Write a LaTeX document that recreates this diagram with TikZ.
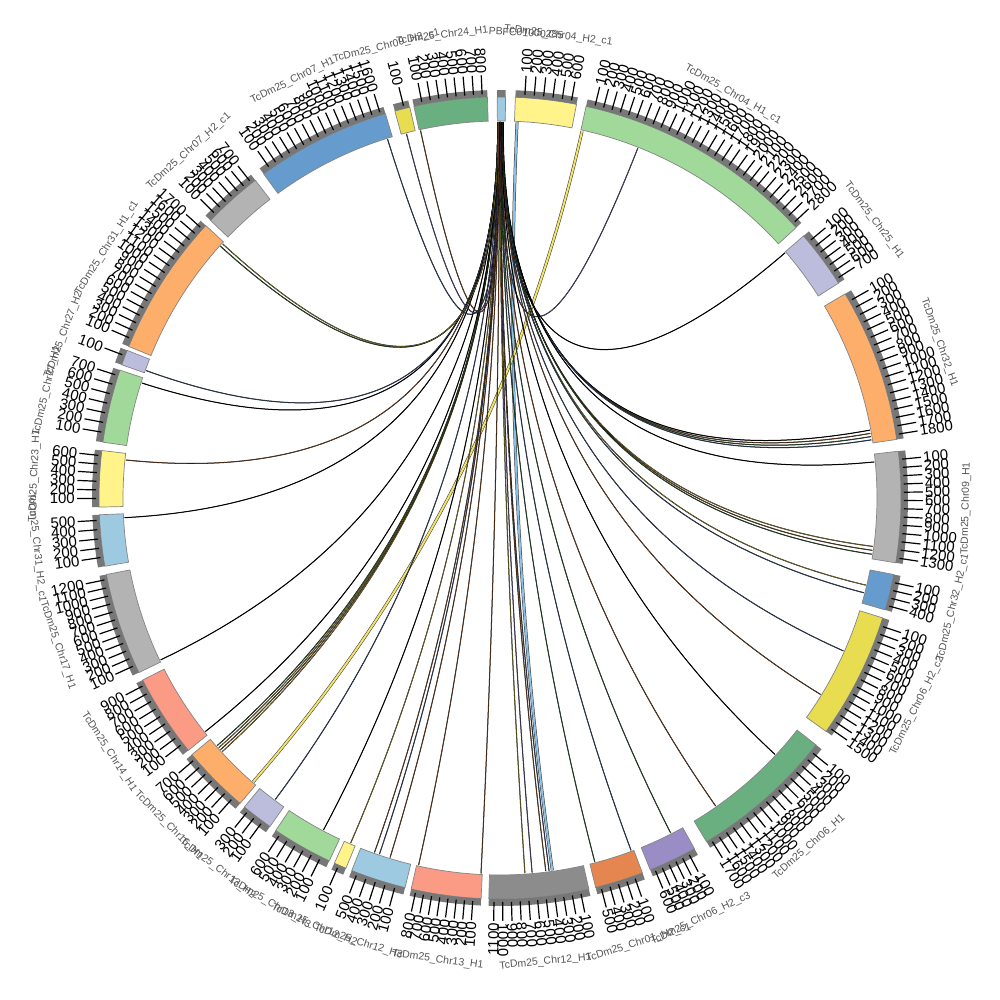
\documentclass[tikz,border=0pt]{standalone}
\usepackage{fontspec}
\setmainfont{Liberation Sans}
\usetikzlibrary{calc}
\definecolor{cLB}{HTML}{9ECAE1}
\definecolor{cLY}{HTML}{FFF38A}
\definecolor{cLG}{HTML}{A1D99B}
\definecolor{cLV}{HTML}{BCBDDC}
\definecolor{cOR}{HTML}{FDAE6B}
\definecolor{cGR}{HTML}{B3B3B3}
\definecolor{cBL}{HTML}{669BCD}
\definecolor{cYD}{HTML}{E8DC50}
\definecolor{cGD}{HTML}{6AAF80}
\definecolor{cPU}{HTML}{9A8CC4}
\definecolor{cOD}{HTML}{E5854F}
\definecolor{cGM}{HTML}{8C8C8C}
\definecolor{cSA}{HTML}{FB9A85}
\definecolor{bandc}{HTML}{777777}
\definecolor{edgec}{HTML}{858585}
\definecolor{labc}{HTML}{555555}
\definecolor{lk1}{HTML}{000000}
\definecolor{lk2}{HTML}{7A4A28}
\definecolor{lk3}{HTML}{8A8030}
\definecolor{lk4}{HTML}{3D4F73}
\definecolor{lk5}{HTML}{2F5A35}
\definecolor{lk6}{HTML}{5C5488}
\definecolor{lk7}{HTML}{F2E26A}
\definecolor{lk8}{HTML}{8FBFE0}
\tikzset{
  segfill/.style={draw=edgec, line width=0.7pt},
  tickband/.style={fill=bandc},
  tickline/.style={draw=black, line width=1.2pt},
  ticklab/.style={inner sep=0pt, font=\fontsize{15}{15}\selectfont, text=black},
  chrlab/.style={inner sep=0pt, font=\fontsize{10.5}{11}\selectfont, text=labc},
  linkout/.style={draw=black, line width=1.0pt},
  linkin/.style={line width=0.45pt},
  ribout/.style={draw=black!80, line width=3.0pt},
  ribin/.style={line width=2.0pt},
}
% #1 id, #2 theta start, #3 theta end, #4 ticks, #5 colour, #6 label, #7 label angle
\newcommand\chrseg[7]{%
  \pgfmathsetmacro\segpA{90-(#2)}%
  \pgfmathsetmacro\segpB{90-(#3)}%
  \fill[#5, segfill] (\segpA:377) arc[start angle=\segpA, end angle=\segpB, radius=377]
     -- (\segpB:401) arc[start angle=\segpB, end angle=\segpA, radius=401] -- cycle;
  \fill[tickband] (\segpA:401) arc[start angle=\segpA, end angle=\segpB, radius=401]
     -- (\segpB:408) arc[start angle=\segpB, end angle=\segpA, radius=408] -- cycle;
  \ifnum#4>0
    \pgfmathsetmacro\tkstep{((#3)-(#2))/(#4+0.6)}%
    \foreach \k in {1,...,#4}{%
      \pgfmathsetmacro\tkth{(#2)+\k*\tkstep}%
      \pgfmathsetmacro\tkph{90-\tkth}%
      \pgfmathtruncatemacro\tkval{100*\k}%
      \draw[tickline] (\tkph:404) -- (\tkph:423);
      \pgfmathtruncatemacro\tkrgt{mod(\tkth+720,360)<180 ? 1 : 0}%
      \ifnum\tkrgt=1
        \node[ticklab, anchor=west, rotate=\tkph] (tl#1x\k) at (\tkph:425) {\tkval};
      \else
        \pgfmathsetmacro\tkrr{\tkph+180}%
        \node[ticklab, anchor=east, rotate=\tkrr] (tl#1x\k) at (\tkph:425) {\tkval};
      \fi
    }
  \fi
  \pgfmathsetmacro\lbph{90-(#7)}%
  \pgfmathtruncatemacro\lbbot{and(mod(#7+720,360)>=90, mod(#7+720,360)<270)}%
  \ifnum\lbbot=1
    \pgfmathsetmacro\lbrot{\lbph+90}%
  \else
    \pgfmathsetmacro\lbrot{\lbph-90}%
  \fi
  \node[chrlab, rotate=\lbrot] (lab#1) at (\lbph:466) {#6};
}
\newcommand\lnk[4]{%
  \coordinate (ls#1) at ({90-(#2)}:376);
  \coordinate (lt#1) at ({90-(#3)}:376);
  \draw[linkout] (ls#1) .. controls ($(ls#1)!0.6667!(O)$) and ($(lt#1)!0.6667!(O)$) .. (lt#1);
  \draw[linkin, draw=#4] (ls#1) .. controls ($(ls#1)!0.6667!(O)$) and ($(lt#1)!0.6667!(O)$) .. (lt#1);
}
\newcommand\rib[4]{%
  \coordinate (ls#1) at ({90-(#2)}:376);
  \coordinate (lt#1) at ({90-(#3)}:376);
  \draw[ribout] (ls#1) .. controls ($(ls#1)!0.6667!(O)$) and ($(lt#1)!0.6667!(O)$) .. (lt#1);
  \draw[ribin, draw=#4] (ls#1) .. controls ($(ls#1)!0.6667!(O)$) and ($(lt#1)!0.6667!(O)$) .. (lt#1);
}
\begin{document}
\begin{tikzpicture}[x=1pt, y=1pt]
\useasboundingbox (-500,-502) rectangle (500,498);
\fill[white] (-500,-502) rectangle (500,498);
\coordinate (O) at (0,0);
% ---------- links ----------
\rib{47}{2.6}{172}{lk8}
\rib{48}{12.6}{221}{lk7}
\lnk{1}{0.1}{21.5}{lk6}
\lnk{2}{0.2}{49.3}{lk1}
\lnk{3}{0.3}{79.6}{lk1}
\lnk{4}{0.35}{80.1}{lk2}
\lnk{5}{0.4}{80.6}{lk5}
\lnk{6}{0.45}{81.1}{lk4}
\lnk{7}{0.5}{84.5}{lk1}
\lnk{8}{0.3}{97.4}{lk3}
\lnk{9}{0.35}{98.0}{lk2}
\lnk{10}{0.4}{98.6}{lk5}
\lnk{11}{0.25}{103.4}{lk3}
\lnk{12}{0.3}{104.6}{lk4}
\lnk{13}{0.2}{114}{lk4}
\lnk{14}{0.25}{121.5}{lk2}
\lnk{15}{0.2}{133}{lk1}
\lnk{16}{0.15}{145}{lk2}
\lnk{17}{0.1}{153}{lk5}
\lnk{18}{0.05}{159.6}{lk4}
\lnk{19}{0.1}{165.4}{lk5}
\lnk{20}{0.0}{172.5}{lk4}
\lnk{21}{0.05}{173.0}{lk2}
\lnk{22}{0.0}{175.1}{lk6}
\lnk{23}{-0.05}{176.2}{lk3}
\lnk{24}{-0.1}{182.9}{lk2}
\lnk{25}{-0.1}{192.5}{lk2}
\lnk{26}{-0.15}{197}{lk2}
\lnk{27}{-0.15}{198.7}{lk4}
\lnk{28}{-0.2}{199.5}{lk2}
\lnk{29}{-0.2}{203.4}{lk3}
\lnk{30}{-0.2}{208}{lk1}
\lnk{31}{-0.25}{216.7}{lk4}
\lnk{32}{-0.25}{227.6}{lk3}
\lnk{33}{-0.25}{228.0}{lk2}
\lnk{34}{-0.3}{228.4}{lk3}
\lnk{35}{-0.3}{228.8}{lk5}
\lnk{36}{-0.3}{231.6}{lk1}
\lnk{37}{-0.3}{244.5}{lk1}
\lnk{38}{-0.35}{267}{lk1}
\lnk{39}{-0.35}{275.8}{lk2}
\lnk{40}{-0.35}{287.8}{lk1}
\lnk{41}{-0.35}{289.8}{lk4}
\lnk{42}{-0.3}{312}{lk5}
\lnk{43}{-0.3}{312.5}{lk3}
\lnk{44}{-0.25}{342.6}{lk4}
\lnk{45}{-0.2}{345.6}{lk6}
\lnk{46}{-0.2}{347.8}{lk2}
% ---------- segments ----------
\chrseg{a}{-0.4}{0.8}{0}{cLB}{PBFC01000285}{3.2}
\chrseg{b}{2.2}{11}{6}{cLY}{TcDm25\_Chr04\_H2\_c1}{7.2}
\chrseg{c}{12.4}{47.6}{28}{cLG}{TcDm25\_Chr04\_H1\_c1}{30}
\chrseg{d}{49.2}{57.6}{7}{cLV}{TcDm25\_Chr25\_H1}{53.4}
\chrseg{e}{59.4}{81.6}{18}{cOR}{TcDm25\_Chr32\_H1}{70.5}
\chrseg{f}{83.3}{99.3}{13}{cGR}{TcDm25\_Chr09\_H1}{91.3}
\chrseg{g}{101}{106.2}{4}{cBL}{TcDm25\_Chr32\_H2\_c1}{103.6}
\chrseg{h}{107.4}{125.6}{15}{cYD}{TcDm25\_Chr06\_H2\_c2}{116.5}
\chrseg{i}{128}{149}{17}{cGD}{TcDm25\_Chr06\_H1}{138.5}
\chrseg{j}{151}{158}{6}{cPU}{TcDm25\_Chr06\_H2\_c3}{154.5}
\chrseg{k}{159.2}{166.2}{5}{cOD}{TcDm25\_Chr01\_H2\_c1}{162.7}
\chrseg{l}{167.2}{181.6}{11}{cGM}{TcDm25\_Chr12\_H1}{174.4}
\chrseg{m}{182.7}{192.8}{8}{cSA}{TcDm25\_Chr13\_H1}{187.7}
\chrseg{n}{193.7}{201.7}{5}{cLB}{TcDm25\_Chr12\_H3}{197.7}
\chrseg{o}{202.6}{204.4}{1}{cLY}{TcDm25\_Chr12\_H2}{203.5}
\chrseg{p}{205.2}{214}{6}{cLG}{TcDm25\_Chr13\_H3}{209.6}
\chrseg{q}{215}{219.6}{3}{cLV}{TcDm25\_Chr13\_H2}{217.3}
\chrseg{r}{220.4}{230.2}{7}{cOR}{TcDm25\_Chr16\_H1}{225.3}
\chrseg{s}{231}{243}{9}{cSA}{TcDm25\_Chr14\_H1}{237}
\chrseg{t}{244.2}{259}{12}{cGR}{TcDm25\_Chr17\_H1}{251.6}
\chrseg{u}{260.2}{267.6}{5}{cLB}{TcDm25\_Chr31\_H2\_c1}{263.9}
\chrseg{v}{268.7}{276.8}{6}{cLY}{TcDm25\_Chr23\_H1}{272.7}
\chrseg{w}{278}{288.6}{7}{cLG}{TcDm25\_Chr27\_H1}{283.3}
\chrseg{x}{289.4}{291.6}{1}{cLV}{TcDm25\_Chr27\_H2}{290.5}
\chrseg{y}{292.2}{312.8}{17}{cOR}{TcDm25\_Chr31\_H1\_c1}{302.5}
\chrseg{z}{313.8}{322.4}{7}{cGR}{TcDm25\_Chr07\_H2\_c1}{318.1}
\chrseg{aa}{323.9}{343.4}{16}{cBL}{TcDm25\_Chr07\_H1}{333.6}
\chrseg{ab}{344.8}{347}{1}{cYD}{TcDm25\_Chr09\_H2\_c1}{345.9}
\chrseg{ac}{347.6}{358.2}{8}{cGD}{TcDm25\_Chr24\_H1}{352.9}
\end{tikzpicture}
\end{document}
